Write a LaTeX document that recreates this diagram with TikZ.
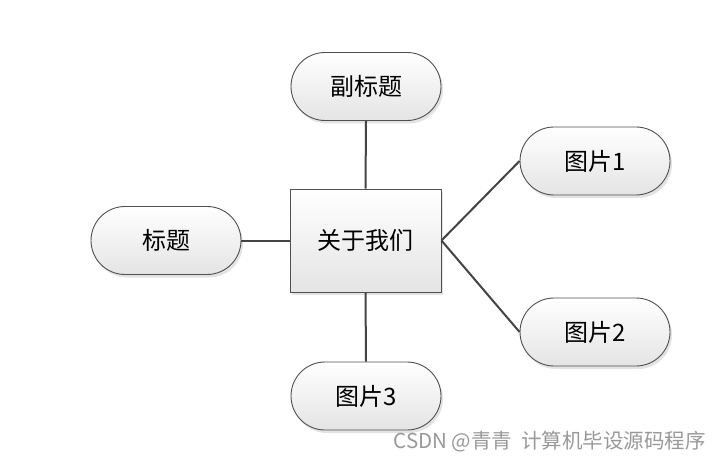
\documentclass[tikz,border=0pt]{standalone}
\usepackage{fontspec}
\newfontfamily\cjk{Noto Sans CJK SC}
\usetikzlibrary{shadows}
\definecolor{edge}{HTML}{505050}
\definecolor{fillbot}{HTML}{E4E4E4}
\tikzset{
  x=1pt, y=-1pt,
  base/.style={draw=edge, line width=0.9pt, top color=white, bottom color=fillbot,
    drop shadow={shadow xshift=2pt, shadow yshift=-3pt, fill=black!18, opacity=0.6},
    font=\cjk\fontsize{24}{28}\selectfont, inner sep=0pt},
  pill/.style={base, rounded rectangle, minimum width=150pt, minimum height=68pt},
  boxnode/.style={base, rectangle, minimum width=151pt, minimum height=103pt},
  link/.style={draw=edge!85!black, line width=2pt}
}
\usetikzlibrary{shapes.misc}
\begin{document}
\begin{tikzpicture}
\useasboundingbox[fill=white] (0,0) rectangle (719,462);
\node[pill] (sub) at (366,86.5) {副标题};
\node[boxnode] (main) at (365.5,240.5) {关于我们};
\node[pill] (title) at (166,240.5) {标题};
\node[pill] (p1) at (595,161) {图片1};
\node[pill] (p2) at (595,332) {图片2};
\node[pill] (p3) at (366,396) {图片3};
\draw[link] (sub.south) -- (main.north);
\draw[link] (title.east) -- (main.west);
\draw[link] (main.east) -- (p1.west);
\draw[link] (main.east) -- (p2.west);
\draw[link] (main.south) -- (p3.north);
\node[anchor=east, text=black!40, font=\cjk\fontsize{20.5}{24}\selectfont, inner sep=0pt] (wm) at (706,442) {CSDN @青青\ \ 计算机毕设源码程序};
\end{tikzpicture}
\end{document}
